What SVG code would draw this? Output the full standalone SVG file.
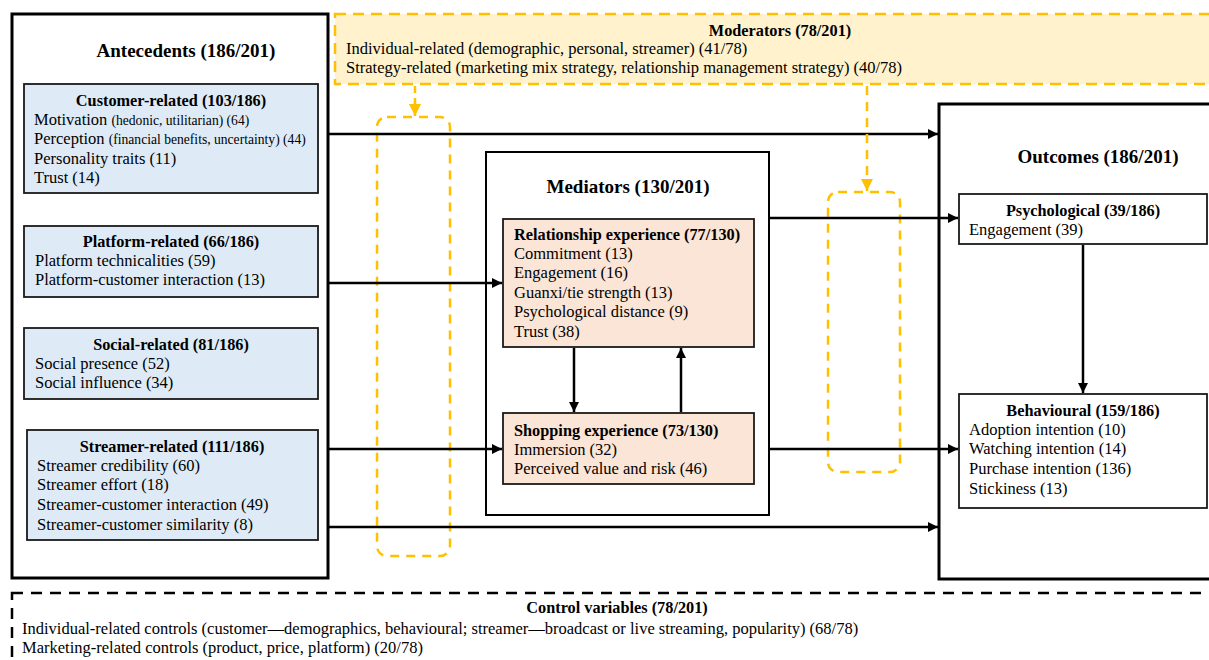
<svg xmlns="http://www.w3.org/2000/svg" width="1209" height="660" viewBox="0 0 1209 660">
<defs>
<marker id="ah" viewBox="0 0 10 10" refX="10" refY="5" markerWidth="4" markerHeight="4" orient="auto" markerUnits="strokeWidth"><path d="M0,0 L10,5 L0,10 z" fill="#000"/></marker>
<marker id="ahy" viewBox="0 0 10 10" refX="10" refY="5" markerWidth="5" markerHeight="5" orient="auto" markerUnits="strokeWidth"><path d="M0,0 L10,5 L0,10 z" fill="#FFC000"/></marker>
<style>
text{font-family:"Liberation Serif","Times New Roman",serif;fill:#000}
.big{font-size:19px;font-weight:bold;text-anchor:middle}
.hd{font-size:16.3px;font-weight:bold}
.c{text-anchor:middle}
.b{font-size:16.5px}
.sm{font-size:13.6px}
.outer{fill:#fff;stroke:#000;stroke-width:3}
.med{fill:#fff;stroke:#000;stroke-width:2}
.blue{fill:#DEEBF7;stroke:#1a1a1a;stroke-width:1.8}
.peach{fill:#FBE5D6;stroke:#1a1a1a;stroke-width:1.8}
.wbox{fill:#fff;stroke:#1a1a1a;stroke-width:1.8}
.ydash{fill:none;stroke:#FFC000;stroke-width:2.5;stroke-dasharray:9,7}
.conn{stroke:#000;stroke-width:2.5;fill:none}
</style>
</defs>

<g id="antecedents">
<rect class="outer" x="12" y="14" width="316" height="564"/>
<text class="big" x="186" y="57">Antecedents (186/201)</text>
</g>

<g id="customer-related">
<rect class="blue" x="24" y="84" width="294" height="109"/>
<text class="hd c" x="171" y="106">Customer-related (103/186)</text>
<text class="b" x="34" y="125">Motivation <tspan class="sm">(hedonic, utilitarian) (64)</tspan></text>
<text class="b" x="34" y="144">Perception <tspan class="sm">(financial benefits, uncertainty) (44)</tspan></text>
<text class="b" x="34" y="164">Personality traits (11)</text>
<text class="b" x="34" y="183">Trust (14)</text>
</g>

<g id="platform-related">
<rect class="blue" x="24" y="226" width="294" height="71"/>
<text class="hd c" x="171" y="247">Platform-related (66/186)</text>
<text class="b" x="35" y="266">Platform technicalities (59)</text>
<text class="b" x="35" y="285">Platform-customer interaction (13)</text>
</g>

<g id="social-related">
<rect class="blue" x="24" y="328" width="294" height="71"/>
<text class="hd c" x="171" y="350">Social-related (81/186)</text>
<text class="b" x="35" y="369">Social presence (52)</text>
<text class="b" x="35" y="388">Social influence (34)</text>
</g>

<g id="streamer-related">
<rect class="blue" x="27" y="430" width="291" height="110"/>
<text class="hd c" x="172" y="452">Streamer-related (111/186)</text>
<text class="b" x="37" y="471">Streamer credibility (60)</text>
<text class="b" x="37" y="490">Streamer effort (18)</text>
<text class="b" x="37" y="510">Streamer-customer interaction (49)</text>
<text class="b" x="37" y="530">Streamer-customer similarity (8)</text>
</g>

<g id="moderators">
<rect x="335" y="14" width="895" height="70" fill="#FFF2CC" stroke="#FFC000" stroke-width="2.5" stroke-dasharray="11,7"/>
<text class="hd c" x="780" y="36">Moderators (78/201)</text>
<text class="b" x="346" y="54">Individual-related (demographic, personal, streamer) (41/78)</text>
<text class="b" x="346" y="73">Strategy-related (marketing mix strategy, relationship management strategy) (40/78)</text>
</g>

<g id="mediators">
<rect class="med" x="486" y="152" width="283" height="363"/>
<text class="big" x="628" y="193">Mediators (130/201)</text>
</g>

<g id="relationship-experience">
<rect class="peach" x="503" y="219" width="251" height="128"/>
<text class="hd" x="514" y="240">Relationship experience (77/130)</text>
<text class="b" x="514" y="259">Commitment (13)</text>
<text class="b" x="514" y="278">Engagement (16)</text>
<text class="b" x="514" y="298">Guanxi/tie strength (13)</text>
<text class="b" x="514" y="317">Psychological distance (9)</text>
<text class="b" x="514" y="337">Trust (38)</text>
</g>

<g id="shopping-experience">
<rect class="peach" x="503" y="413" width="251" height="71"/>
<text class="hd" x="514" y="436">Shopping experience (73/130)</text>
<text class="b" x="514" y="455">Immersion (32)</text>
<text class="b" x="514" y="474">Perceived value and risk (46)</text>
</g>

<g id="outcomes">
<rect class="outer" x="939" y="104" width="300" height="475"/>
<text class="big" x="1098" y="163">Outcomes (186/201)</text>
</g>

<g id="psychological">
<rect class="wbox" x="959" y="194" width="248" height="50"/>
<text class="hd c" x="1083" y="216">Psychological (39/186)</text>
<text class="b" x="969" y="235">Engagement (39)</text>
</g>

<g id="behavioural">
<rect class="wbox" x="959" y="394" width="248" height="114"/>
<text class="hd c" x="1083" y="416">Behavioural (159/186)</text>
<text class="b" x="969" y="435">Adoption intention (10)</text>
<text class="b" x="969" y="454">Watching intention (14)</text>
<text class="b" x="969" y="474">Purchase intention (136)</text>
<text class="b" x="969" y="494">Stickiness (13)</text>
</g>

<g id="control-variables">
<rect x="12" y="593" width="1215" height="90" fill="none" stroke="#000" stroke-width="2.5" stroke-dasharray="11,8"/>
<text class="hd c" x="617" y="613">Control variables (78/201)</text>
<text class="b" x="22" y="634">Individual-related controls (customer—demographics, behavioural; streamer—broadcast or live streaming, popularity) (68/78)</text>
<text class="b" x="22" y="653">Marketing-related controls (product, price, platform) (20/78)</text>
</g>

<g id="moderation-zones">
<rect class="ydash" x="377" y="117" width="73" height="439" rx="10"/>
<rect class="ydash" x="828" y="192" width="72" height="280" rx="10"/>
</g>

<g id="connectors">
<line class="conn" x1="329" y1="134" x2="938" y2="134" marker-end="url(#ah)"/>
<line class="conn" x1="329" y1="283" x2="502" y2="283" marker-end="url(#ah)"/>
<line class="conn" x1="329" y1="449" x2="502" y2="449" marker-end="url(#ah)"/>
<line class="conn" x1="329" y1="527" x2="938" y2="527" marker-end="url(#ah)"/>
<line class="conn" x1="770" y1="218" x2="958" y2="218" marker-end="url(#ah)"/>
<line class="conn" x1="770" y1="449" x2="958" y2="449" marker-end="url(#ah)"/>
<line class="conn" x1="574" y1="348" x2="574" y2="412" marker-end="url(#ah)"/>
<line class="conn" x1="681" y1="412" x2="681" y2="348" marker-end="url(#ah)"/>
<line class="conn" x1="1083" y1="245" x2="1083" y2="393" marker-end="url(#ah)"/>
<line x1="415" y1="86" x2="415" y2="116" stroke="#FFC000" stroke-width="2.5" stroke-dasharray="7,5" marker-end="url(#ahy)"/>
<line x1="867" y1="86" x2="867" y2="191" stroke="#FFC000" stroke-width="2.5" stroke-dasharray="9,7" marker-end="url(#ahy)"/>
</g>
</svg>
